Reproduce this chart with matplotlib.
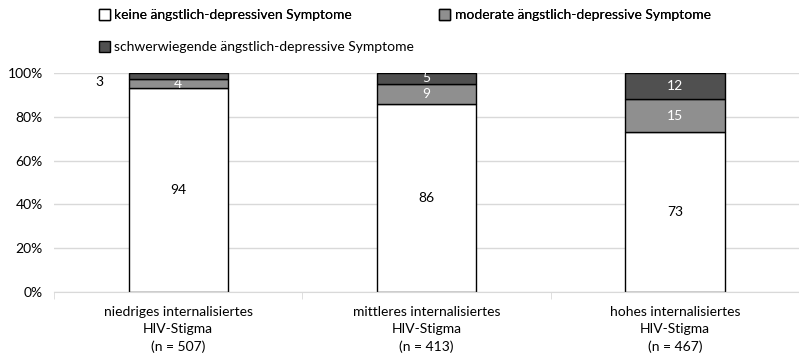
import matplotlib.pyplot as plt
import numpy as np

plt.rcParams['font.family'] = ['Lato', 'DejaVu Sans']

# Daten (Prozent)
kategorien = ['niedriges internalisiertes\nHIV-Stigma\n(n = 507)',
              'mittleres internalisiertes\nHIV-Stigma\n(n = 413)',
              'hohes internalisiertes\nHIV-Stigma\n(n = 467)']
keine = [94, 86, 73]
moderat = [4, 9, 15]
schwer = [3, 5, 12]
serien_namen = ['keine ängstlich-depressiven Symptome',
                'moderate ängstlich-depressive Symptome',
                'schwerwiegende ängstlich-depressive Symptome']

werte = np.array([keine, moderat, schwer], dtype=float)
anteil = werte / werte.sum(axis=0) * 100  # 100% gestapelt wie in Excel

fig = plt.figure(figsize=(7.99, 3.55), dpi=100)
ax = fig.add_axes([0.0676, 0.1775, 0.9324, 0.6169])

farben = ['white', '#8f8f8f', '#505050']
text_farben = ['black', 'white', 'white']
x = np.arange(len(kategorien))
unten = np.zeros(len(kategorien))
balken = []
for i in range(3):
    b = ax.bar(x, anteil[i], 0.4, bottom=unten, color=farben[i],
               edgecolor='black', linewidth=1.0, zorder=3)
    balken.append(b)
    for j in range(len(x)):
        y = unten[j] + anteil[i][j] / 2
        if i == 2 and j == 0:
            # zu schmal -> Beschriftung links neben dem Balken
            ax.text(x[j] - 0.316, y - 2.5, f'{int(werte[i][j])}', ha='center',
                    va='center', fontsize=10, color='black')
        else:
            ax.text(x[j], y, f'{int(werte[i][j])}', ha='center',
                    va='center', fontsize=10, color=text_farben[i])
    unten += anteil[i]

ax.set_xlim(-0.5, 2.48)
ax.set_ylim(0, 100)
ax.set_yticks(np.arange(0, 101, 20))
ax.set_yticklabels([f'{v}%' for v in range(0, 101, 20)], fontsize=10)
ax.yaxis.grid(True, color='#d9d9d9', linewidth=1, zorder=0)
ax.tick_params(axis='y', length=0, pad=8)

ax.set_xticks(x)
ax.set_xticklabels(kategorien, fontsize=10, linespacing=1.52)
ax.tick_params(axis='x', length=0, pad=10)
ax.set_xticks([-0.5, 0.5, 1.5, 2.5], minor=True)
ax.tick_params(axis='x', which='minor', length=5, color='#d9d9d9')

for s in ['top', 'right', 'left']:
    ax.spines[s].set_visible(False)
ax.spines['bottom'].set_color('#d9d9d9')
ax.spines['bottom'].set_zorder(4)

# Legende
leg1 = fig.legend([balken[0], balken[1]], serien_namen[:2], ncol=2,
                  loc='upper left', bbox_to_anchor=(0.108, 1.01), frameon=False,
                  fontsize=10, handlelength=0.8, handleheight=0.8,
                  handletextpad=0.3, columnspacing=6.3)
leg2 = fig.legend([balken[2]], serien_namen[2:], loc='upper left',
                  bbox_to_anchor=(0.108, 0.92), frameon=False, fontsize=10,
                  handlelength=0.8, handleheight=0.8, handletextpad=0.3)
fig.add_artist(leg1)

fig.savefig('out.png', dpi=100)
